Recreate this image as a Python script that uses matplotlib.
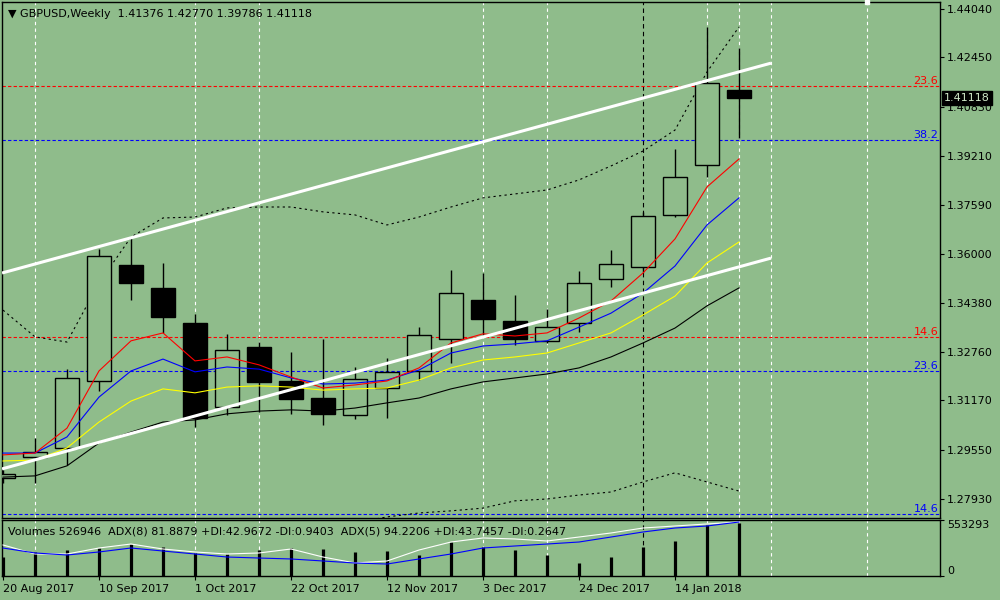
import numpy as np
import matplotlib
matplotlib.use("Agg")
import matplotlib.pyplot as plt

# weekly GBPUSD candles, index 0 = week of 20 Aug 2017
opens = [1.2862, 1.2931, 1.2961, 1.3181, 1.3562, 1.3487, 1.3372, 1.3095, 1.3293, 1.3181, 1.3125, 1.3069,
         1.3158, 1.3214, 1.3319, 1.3447, 1.3378, 1.3312, 1.3372, 1.3516, 1.3556, 1.3727, 1.3891, 1.41376]
highs = [1.2888, 1.2994, 1.3220, 1.3615, 1.3654, 1.3569, 1.3401, 1.3335, 1.3309, 1.3276, 1.3319, 1.3227,
         1.3257, 1.3359, 1.3546, 1.3536, 1.3464, 1.3418, 1.3543, 1.3612, 1.3737, 1.3944, 1.4345, 1.42770]
lows = [1.2846, 1.2846, 1.2905, 1.3148, 1.3447, 1.3339, 1.3030, 1.3069, 1.3079, 1.3073, 1.3036, 1.3056,
        1.3059, 1.3184, 1.3240, 1.3332, 1.3299, 1.3306, 1.3342, 1.3490, 1.3539, 1.3720, 1.3852, 1.39786]
closes = [1.2875, 1.2948, 1.3191, 1.3592, 1.3503, 1.3391, 1.3059, 1.3283, 1.3178, 1.3122, 1.3073, 1.3188,
          1.3211, 1.3332, 1.3470, 1.3385, 1.3319, 1.3359, 1.3503, 1.3566, 1.3723, 1.3852, 1.4161, 1.41118]

ma_red = [1.2938, 1.2944, 1.3026, 1.3214, 1.3313, 1.3339, 1.3247, 1.3260, 1.3234, 1.3194, 1.3158, 1.3168,
          1.3181, 1.3224, 1.3306, 1.3336, 1.3329, 1.3339, 1.3388, 1.3444, 1.3536, 1.3648, 1.3819, 1.3911]
ma_blue = [1.2944, 1.2944, 1.2997, 1.3128, 1.3214, 1.3253, 1.3211, 1.3227, 1.3220, 1.3191, 1.3171, 1.3174,
           1.3184, 1.3217, 1.3273, 1.3296, 1.3303, 1.3313, 1.3358, 1.3404, 1.3470, 1.3559, 1.3694, 1.3783]
ma_yellow = [1.2918, 1.2921, 1.2961, 1.3046, 1.3115, 1.3155, 1.3142, 1.3161, 1.3165, 1.3161, 1.3151, 1.3155,
             1.3158, 1.3184, 1.3224, 1.3250, 1.3260, 1.3273, 1.3306, 1.3339, 1.3398, 1.3460, 1.3569, 1.3638]
ma_black = [1.2865, 1.2869, 1.2902, 1.2977, 1.3013, 1.3046, 1.3053, 1.3073, 1.3082, 1.3086, 1.3082, 1.3092,
            1.3109, 1.3125, 1.3155, 1.3178, 1.3191, 1.3204, 1.3224, 1.3260, 1.3306, 1.3355, 1.3428, 1.3487]
band_upper = [1.3414, 1.3326, 1.3309, 1.3503, 1.3654, 1.3717, 1.3720, 1.3750, 1.3753, 1.3753, 1.3737, 1.3727,
              1.3694, 1.3720, 1.3753, 1.3783, 1.3796, 1.3809, 1.3842, 1.3888, 1.3937, 1.4006, 1.4197, 1.4345]
band_lower = [np.nan] * 11 + [1.2715, 1.2734, 1.2747, 1.2754, 1.2763, 1.2787, 1.2793, 1.2806, 1.2816,
                              1.2849, 1.2879, 1.2849, 1.2819]

volumes = [187720, 237120, 256880, 276640, 316160, 286520, 227240, 217360, 256880, 276640, 266760, 237120,
           247000, 207480, 335920, 286520, 256880, 207480, 128440, 187720, 286520, 345800, 503880, 526946]
adx_white = [55.4, 39.3, 39.3, 50.0, 57.1, 48.2, 42.9, 39.3, 41.1, 48.2, 33.9, 23.2,
             26.8, 46.4, 60.7, 67.9, 66.1, 62.5, 69.6, 76.8, 85.7, 89.3, 92.9, 96.4]
adx_blue = [50.0, 41.1, 37.5, 42.9, 50.0, 44.6, 39.3, 33.9, 32.1, 30.4, 26.8, 23.2,
            21.4, 30.4, 39.3, 50.0, 53.6, 57.1, 60.7, 69.6, 78.6, 85.7, 89.3, 96.4]

# channel lines (start / end in bar index and price)
channel_x = [-0.03, 24.0]
channel_upper = [1.3536, 1.4226]
channel_lower = [1.2892, 1.3585]

fib_red = [1.4151, 1.3326]
fib_red_labels = ["23.6", "14.6"]
fib_blue = [1.3973, 1.3214, 1.2744]
fib_blue_labels = ["38.2", "23.6", "14.6"]

price_ticks = [1.44040, 1.42450, 1.40830, 1.39210, 1.37590, 1.36000, 1.34380, 1.32760, 1.31170, 1.29550, 1.27930]
date_pos = [0, 3, 6, 9, 12, 15, 18, 21]
date_labels = ["20 Aug 2017", "10 Sep 2017", "1 Oct 2017", "22 Oct 2017", "12 Nov 2017",
               "3 Dec 2017", "24 Dec 2017", "14 Jan 2018"]
grid_white = [1, 6, 8, 15, 17, 22, 23, 24, 27]
grid_black = [20]

BG = "#8fbc8b"
W, H = 1000, 600


def box(l, t, r, b):
    return [l / W, 1 - b / H, (r - l) / W, (b - t) / H]


plt.rcParams["font.family"] = ["DejaVu Sans"]
fig = plt.figure(figsize=(10, 6), dpi=100, facecolor=BG)
ax = fig.add_axes(box(2, 2, 940, 518), facecolor=BG)
axv = fig.add_axes(box(2, 520, 940, 576), facecolor=BG)
axa = axv.twinx()

idx = np.arange(len(opens))
xlim = (-1 / 32, 937 / 32)

# grid
for a in (ax, axv):
    for g in grid_white:
        a.axvline(g, color="white", lw=0.8, ls=(0, (3, 3)), zorder=1)
    for g in grid_black:
        a.axvline(g, color="black", lw=0.8, ls=(0, (4, 3)), zorder=1)

# fib levels
for lvl, lab in zip(fib_red, fib_red_labels):
    ax.axhline(lvl, color="#ff0000", lw=0.8, ls=(0, (3, 2)), zorder=2)
    ax.text(0.998, lvl, lab, transform=ax.get_yaxis_transform(), color="#ff0000",
            ha="right", va="bottom", fontsize=8)
for lvl, lab in zip(fib_blue, fib_blue_labels):
    ax.axhline(lvl, color="#0000ff", lw=0.8, ls=(0, (3, 2)), zorder=2)
    ax.text(0.998, lvl, lab, transform=ax.get_yaxis_transform(), color="#0000ff",
            ha="right", va="bottom", fontsize=8)

# bands
ax.plot(idx, band_upper, color="black", lw=0.8, ls=(0, (2, 3)), zorder=3)
ax.plot(idx, band_lower, color="black", lw=0.8, ls=(0, (2, 3)), zorder=3)

# candles
o = np.array(opens); c = np.array(closes)
ax.vlines(idx, lows, highs, color="black", lw=1.0, zorder=4)
bull = c >= o
body_h = np.maximum(np.abs(c - o), 0.0002)
ax.bar(idx[bull], body_h[bull], bottom=np.minimum(o, c)[bull], width=0.75,
       facecolor=BG, edgecolor="black", linewidth=1.0, zorder=5)
ax.bar(idx[~bull], body_h[~bull], bottom=np.minimum(o, c)[~bull], width=0.75,
       facecolor="black", edgecolor="black", linewidth=1.0, zorder=5)

# moving averages
for vals, col in ((ma_black, "black"), (ma_yellow, "#ffff00"), (ma_blue, "#0000ff"), (ma_red, "#ff0000")):
    ax.plot(idx, vals, color=col, lw=0.8, zorder=6)

ax.plot(channel_x, channel_upper, color="white", lw=2.2, zorder=7, solid_capstyle="butt")
ax.plot(channel_x, channel_lower, color="white", lw=2.2, zorder=7, solid_capstyle="butt")

ax.set_xlim(*xlim)
ax.set_ylim(1.27305, 1.44270)
ax.set_xticks([])
ax.yaxis.tick_right()
ax.set_yticks(price_ticks)
ax.set_yticklabels([f"{t:.5f}" for t in price_ticks])
ax.tick_params(axis="y", direction="out", length=3, width=0.8, pad=2, labelsize=8, colors="black")
for s in ax.spines.values():
    s.set_color("black")
    s.set_linewidth(1.0)

# current price tag
ax.annotate(f"{closes[-1]:.5f}", xy=(1, closes[-1]), xycoords=ax.get_yaxis_transform(),
            xytext=(3, 0), textcoords="offset points", ha="left", va="center", fontsize=8,
            color="#d0e8c8", bbox=dict(boxstyle="square,pad=0.18", fc="black", ec="black"),
            annotation_clip=False, zorder=10)

# chart shift marker
ax.plot([27], [1.44270], marker="s", ms=3, color="white", clip_on=False, zorder=10)

ax.text(0.006, 0.977, "\u25bc GBPUSD,Weekly  1.41376 1.42770 1.39786 1.41118",
        transform=ax.transAxes, fontsize=8, ha="left", va="center", color="black")

# volume subwindow
axv.vlines(idx, 0, volumes, color="black", lw=2.3, zorder=3)
axv.set_xlim(*xlim)
axv.set_ylim(0, 553293)
axv.yaxis.tick_right()
axv.yaxis.set_label_position("right")
axv.set_yticks([0, 553293])
axv.set_yticklabels(["0", "553293"])
labs = axv.get_yticklabels()
labs[0].set_va("bottom")
labs[1].set_va("top")
axv.tick_params(axis="y", which="both", left=False, labelleft=False, right=True, labelright=True,
                direction="out", length=3, width=0.8, pad=2, labelsize=8)
axv.set_xticks(date_pos)
axv.set_xticklabels(date_labels, ha="left")
axv.tick_params(axis="x", direction="out", length=3, width=0.8, pad=3, labelsize=8)
for s in axv.spines.values():
    s.set_color("black")
    s.set_linewidth(1.0)

# ADX lines on their own 0-100 scale
axa.set_ylim(0, 100)
axa.plot(idx, adx_white, color="white", lw=0.8, zorder=4)
axa.plot(idx, adx_blue, color="#0000ff", lw=0.8, zorder=4)
axa.set_yticks([])
axa.set_xlim(*xlim)
for s in axa.spines.values():
    s.set_visible(False)

axa.text(0.006, 0.8, "Volumes 526946  ADX(8) 81.8879 +DI:42.9672 -DI:0.9403  ADX(5) 94.2206 +DI:43.7457 -DI:0.2647",
         transform=axa.transAxes, fontsize=8, ha="left", va="center", color="black", zorder=6)

fig.savefig("out.png", dpi=100, facecolor=BG)
